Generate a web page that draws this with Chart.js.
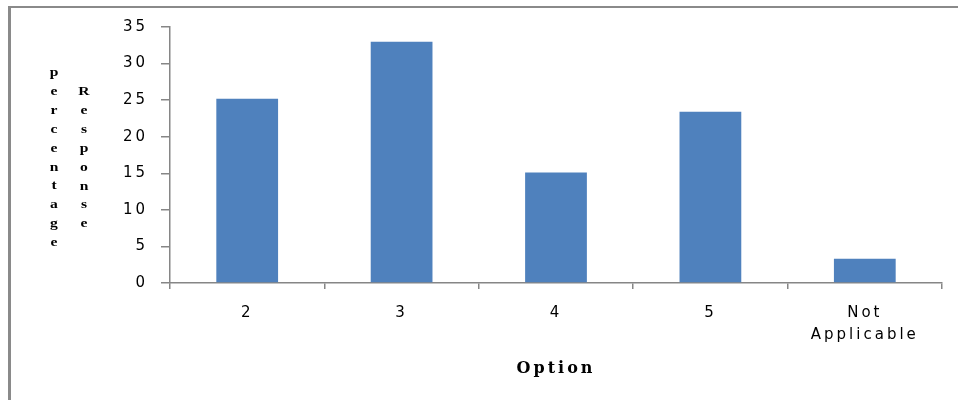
<!DOCTYPE html>
<html>
<head>
<meta charset="utf-8">
<script src="https://cdn.jsdelivr.net/npm/chart.js@4/dist/chart.umd.min.js"></script>
<style>
  html, body { margin: 0; padding: 0; background: #fff; }
  #wrap { position: relative; width: 958px; height: 400px; }
</style>
</head>
<body>
<div id="wrap"><canvas id="chart" width="958" height="400"></canvas></div>
<script>
const categories = ['2', '3', '4', '5', ['Not', 'Applicable']];
const responses = [25.2, 33.0, 15.1, 23.4, 3.3];
const yTicks = [0, 5, 10, 15, 20, 25, 30, 35];
const yTitleLeft = 'percentage';
const yTitleRight = 'Response';
const xTitle = 'Option';

const AXIS_GREY = '#868686';
const BAR_BLUE = '#4F81BD';

// ── Frame + stacked axis title ────────────────────────
const drawStacked = (ctx, text, x, y0, step) => {
  [...text].forEach((ch, i) => {
    ctx.save();
    ctx.translate(x, y0 + i * step);
    ctx.scale(1.3, 1);
    ctx.fillText(ch, 0, 0);
    ctx.restore();
  });
};

const framePlugin = {
  id: 'frame',
  beforeDraw(chart) {
    const ctx = chart.ctx;
    ctx.save();
    ctx.fillStyle = '#8a8a8a';
    ctx.fillRect(8, 6, 3, chart.height - 6);
    ctx.fillRect(8, 6, chart.width - 8, 2);
    ctx.restore();
    ctx.letterSpacing = '3px';
  },
  afterDraw(chart) {
    const ctx = chart.ctx;
    ctx.save();
    ctx.letterSpacing = '0px';
    ctx.fillStyle = '#000';
    ctx.font = 'bold 12px "Liberation Serif", serif';
    ctx.textAlign = 'center';
    ctx.textBaseline = 'middle';
    drawStacked(ctx, yTitleLeft, 54, 73, 18.9);
    drawStacked(ctx, yTitleRight, 84, 92, 18.9);
    ctx.restore();
  },
};

new Chart(document.getElementById('chart').getContext('2d'), {
  type: 'bar',
  data: {
    labels: categories,
    datasets: [{
      data: responses,
      backgroundColor: BAR_BLUE,
      borderWidth: 0,
      categoryPercentage: 0.4,
      barPercentage: 1,
    }],
  },
  options: {
    responsive: false,
    devicePixelRatio: 1,
    animation: false,
    layout: { padding: { left: 10, top: 27, right: 16, bottom: 0 } },
    plugins: { legend: { display: false }, tooltip: { enabled: false } },
    scales: {
      x: {
        afterFit: s => { s.height = 117; },
        border: { color: AXIS_GREY, width: 1.5 },
        grid: { offset: true, drawOnChartArea: false, tickLength: 6, color: AXIS_GREY, lineWidth: 1.5 },
        ticks: {
          color: '#000',
          padding: 13,
          maxRotation: 0,
          font: { family: '"DejaVu Sans", sans-serif', size: 15, lineHeight: 1.45 },
        },
        title: {
          display: true,
          text: xTitle,
          color: '#000',
          padding: { top: 0, bottom: 22 },
          font: { family: '"DejaVu Serif", serif', size: 16, weight: 'bold' },
        },
      },
      y: {
        min: 0,
        max: 35,
        afterFit: s => { s.width = 160; },
        afterBuildTicks: s => { s.ticks = yTicks.map(v => ({ value: v })); },
        border: { color: AXIS_GREY, width: 1.5 },
        grid: { drawOnChartArea: false, tickLength: 9, color: AXIS_GREY, lineWidth: 1.5 },
        ticks: {
          color: '#000',
          padding: 13,
          font: { family: '"DejaVu Sans", sans-serif', size: 15 },
        },
      },
    },
  },
  plugins: [framePlugin],
});
</script>
</body>
</html>
